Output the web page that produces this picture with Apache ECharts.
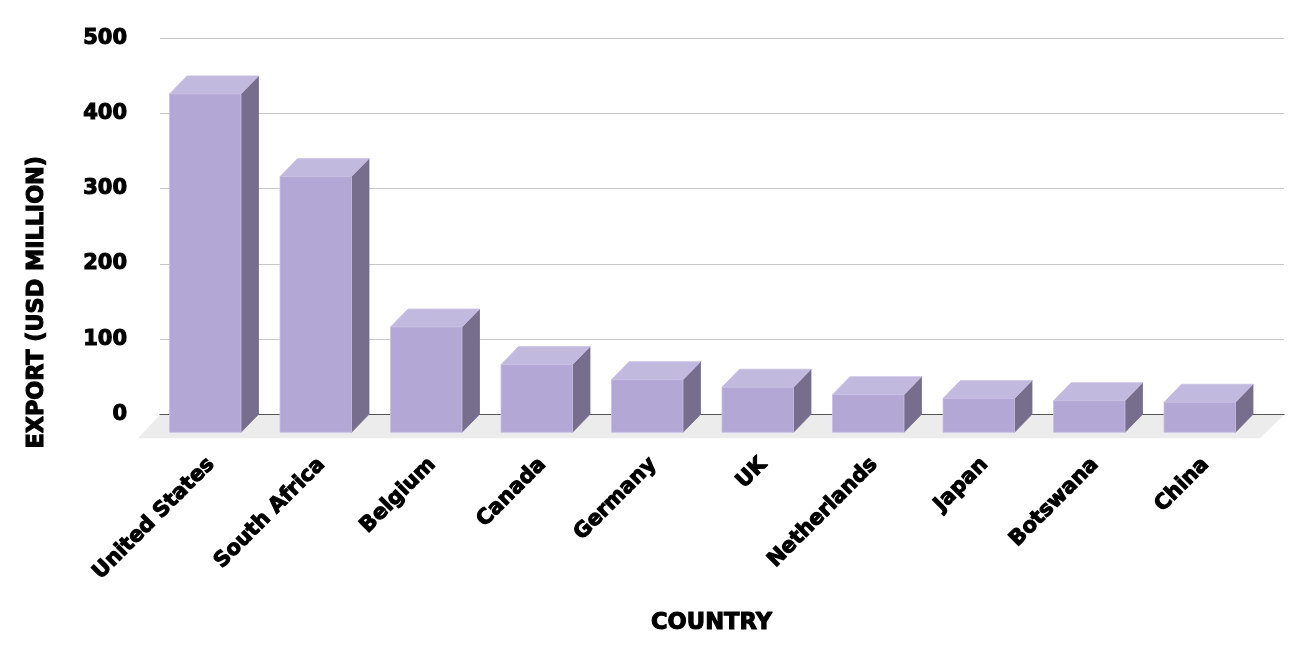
<!DOCTYPE html>
<html><head><meta charset="utf-8">
<style>html,body{margin:0;padding:0;background:#fff}#c{width:1312px;height:657px}</style>
<script src="https://cdn.jsdelivr.net/npm/echarts@6/dist/echarts.min.js"></script>
</head><body><div id="c"></div>
<script>
const categories = ["United States","South Africa","Belgium","Canada","Germany","UK","Netherlands","Japan","Botswana","China"];
const exportValues = [450,340,140,90,70,60,50,45,42,40];
const yTicks = [0,100,200,300,400,500];
const FONT = '"DejaVu Sans"';
const DX = 17.5, DY = 18, SHIFT = -6;
const FRONT = '#b3a7d5', TOP = '#c2b9df', SIDE = '#776d8d', EDGE = '#c9c0e3';
const heavy = {color:'#000', fontFamily:FONT, fontWeight:'bold', textBorderColor:'#000', textBorderWidth:1.1};

function renderBar(params, api){
  const top = api.coord([api.value(0), api.value(1)]);
  const base = api.coord([api.value(0), 0]);
  const w = api.size([1,0])[0]*0.647;
  const l = top[0]+SHIFT-w/2, r = l+w;
  const ft = top[1]+DY, fb = base[1]+DY;
  const poly = (pts, fill, stroke) => ({type:'polygon', shape:{points:pts}, style:{fill, stroke:stroke||fill, lineWidth:0.8}});
  return {type:'group', children:[
    poly([[r,ft],[r+DX,ft-DY],[r+DX,fb-DY],[r,fb]], SIDE),
    poly([[l,ft],[l+DX,ft-DY],[r+DX,ft-DY],[r,ft]], TOP, EDGE),
    poly([[l,ft],[r,ft],[r,fb],[l,fb]], FRONT, EDGE)
  ]};
}
function renderFloor(params, api){
  const c = params.coordSys, y = api.coord([0,0])[1];
  return {type:'polygon', silent:true, shape:{points:[[c.x,y+0.5],[c.x+c.width,y+0.5],[c.x+c.width-24,y+24],[c.x-22,y+24]]}, style:{fill:'#ececec'}};
}
const chart = echarts.init(document.getElementById('c'), null, {renderer:'canvas'});
chart.setOption({
  animation:false,
  backgroundColor:'#fff',
  grid:[
    {left:160, top:38.3, width:1124, height:376},
    {left:156, top:38.3, width:1105, height:376}
  ],
  xAxis:[
    {gridIndex:0, type:'category', data:categories, axisTick:{show:false}, axisLabel:{show:false},
     axisLine:{lineStyle:{color:'#222',width:1}}},
    {gridIndex:1, type:'category', data:categories, axisTick:{show:false}, axisLine:{show:false},
     axisLabel:Object.assign({interval:0, rotate:45, margin:47, fontSize:21}, heavy),
     name:'COUNTRY', nameLocation:'middle', nameGap:197,
     nameTextStyle:Object.assign({fontSize:22.6, padding:[0,0,0,6]}, heavy)}
  ],
  yAxis:[
    {gridIndex:0, type:'value', min:0, max:500, interval:100, axisLine:{show:false}, axisTick:{show:false},
     splitLine:{lineStyle:{color:'#c8c8c8',width:1}},
     axisLabel:Object.assign({margin:33, fontSize:21, padding:[4,0,0,0],
       formatter:v=>yTicks.includes(v)?String(v):''}, heavy),
     name:'EXPORT (USD MILLION)', nameLocation:'middle', nameGap:112,
     nameTextStyle:Object.assign({fontSize:22.3, padding:[0,152,0,0]}, heavy)},
    {gridIndex:1, type:'value', min:0, max:500, interval:100, show:false}
  ],
  series:[
    {type:'custom', name:'Floor', xAxisIndex:0, yAxisIndex:0, z:1, clip:false, silent:true,
     renderItem:renderFloor, data:[[0,0]]},
    {type:'custom', name:'Export', xAxisIndex:1, yAxisIndex:1, z:3, clip:false,
     renderItem:renderBar, encode:{x:0,y:1},
     data:categories.map((c,i)=>[i,exportValues[i]])}
  ]
});
</script></body></html>
